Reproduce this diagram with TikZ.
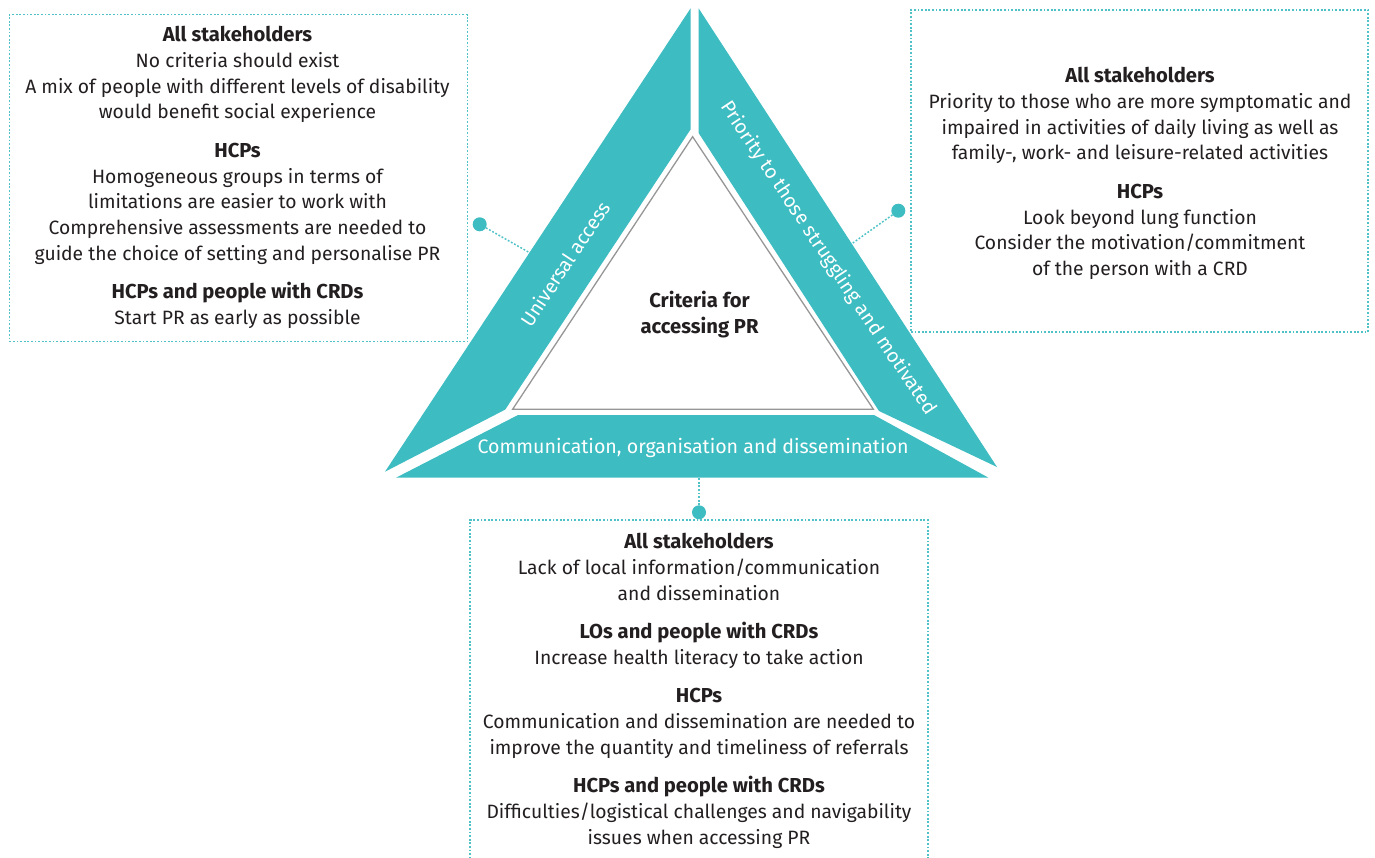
\documentclass[tikz,border=0pt]{standalone}
\usepackage{fontspec}
\setmainfont{Fira Sans}
\definecolor{tealfill}{RGB}{61,188,193}
\definecolor{tealdot}{RGB}{78,194,199}
\definecolor{innergray}{RGB}{150,150,150}
\definecolor{txt}{RGB}{35,31,32}
\newcommand{\hd}[1]{{\fontsize{20.2}{25.8}\selectfont\bfseries #1}}
\begin{document}
\begin{tikzpicture}[x=1pt,y=-1pt,
  body/.style={align=center, text=txt, inner sep=0pt, font=\fontsize{19.3}{25.8}\selectfont},
  infobox/.style={draw=tealdot, line width=1.3pt, dash pattern=on 1.8pt off 1.8pt, inner sep=0pt},
  piece/.style={fill=tealfill},
  band/.style={text=white, inner sep=0pt, font=\fontsize{19.6}{22}\selectfont},
  dot/.style={circle, fill=tealfill, inner sep=0pt, minimum size=14pt},
  link/.style={draw=tealdot, line width=1.5pt, dash pattern=on 1.8pt off 1.8pt}]
\useasboundingbox (0,0) rectangle (1375,857);
\clip (0,0) rectangle (1375,857);
% boxes
\node[infobox, minimum width=458pt, minimum height=327pt] (lbox) at (238.3,178.2) {};
\node[infobox, minimum width=457pt, minimum height=322pt] (rbox) at (1139.5,171) {};
\node[infobox, minimum width=458pt, minimum height=360pt] (bbox) at (699,700) {};
% dots and links
\node[dot] (ldot) at (479.7,224.3) {};
\node[dot] (rdot) at (898.3,210.7) {};
\node[dot] (bdot) at (699,512.3) {};
\coordinate (lend) at (531,253.5);
\coordinate (rend) at (850,245);
\coordinate (bend) at (699,476);
\draw[link] (ldot) -- (lend);
\draw[link] (rdot) -- (rend);
\draw[link] (bdot) -- (bend);
% triangle pieces
\fill[piece] (690.6,8.3) -- (690.6,129.4) -- (505.2,409.6) -- (385,471.7) -- cycle;
\fill[piece] (698.6,8.3) -- (698.6,133) -- (879,411) -- (997,467) -- cycle;
\fill[piece] (518,415) -- (874,415) -- (988.5,477.7) -- (396,477.7) -- cycle;
\draw[innergray, line width=1.3pt] (692.6,136.7) -- (512.6,409.3) -- (873.4,409.3) -- cycle;
% triangle labels
\node[band, rotate=56.5] (ua) at (565,264) {Universal access};
\node[band, rotate=-56.3] (pr) at (828,258.3) {Priority to those struggling and motivated};
\node[band] (com) at (693,447.5) {Communication, organisation and dissemination};
\node[body] (crit) at (699.5,314.5) {\hd{Criteria for}\\\hd{accessing PR}};
% box texts
\node[body] (ltext) at (237.5,177.5) {\hd{All stakeholders}\\No criteria should exist\\A mix of people with different levels of disability\\would benefit social experience\\[12.6pt]\hd{HCPs}\\Homogeneous groups in terms of\\limitations are easier to work with\\Comprehensive assessments are needed to\\guide the choice of setting and personalise PR\\[12.6pt]\hd{HCPs and people with CRDs}\\Start PR as early as possible};
\node[body] (rtext) at (1140,173.5) {\hd{All stakeholders}\\Priority to those who are more symptomatic and\\impaired in activities of daily living as well as\\family-, work- and leisure-related activities\\[12.6pt]\hd{HCPs}\\Look beyond lung function\\Consider the motivation/commitment\\of the person with a CRD};
\node[body] (btext) at (699,691) {\hd{All stakeholders}\\Lack of local information/communication\\and dissemination\\[12.6pt]\hd{LOs and people with CRDs}\\Increase health literacy to take action\\[12.6pt]\hd{HCPs}\\Communication and dissemination are needed to\\improve the quantity and timeliness of referrals\\[12.6pt]\hd{HCPs and people with CRDs}\\Difficulties/logistical challenges and navigability\\issues when accessing PR};
\end{tikzpicture}
\end{document}
